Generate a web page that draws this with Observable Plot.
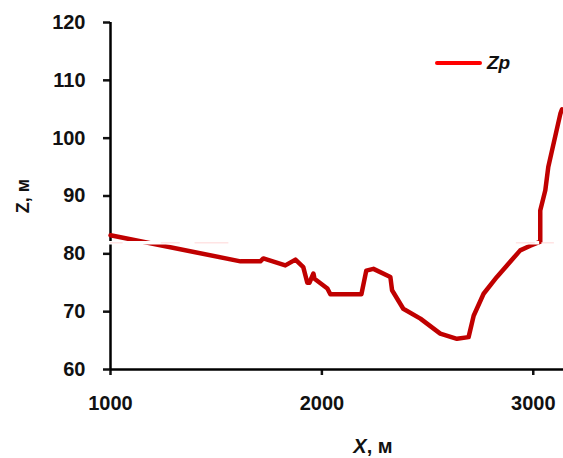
<!DOCTYPE html>
<html>
<head>
<meta charset="utf-8">
<script src="https://cdn.jsdelivr.net/npm/d3@7"></script>
<script src="https://cdn.jsdelivr.net/npm/@observablehq/plot@0.6"></script>
<style>
  body { margin: 0; background: #fff; }
  #wrap { position: relative; width: 563px; height: 458px; font-family: "Liberation Sans", Arial, sans-serif; font-weight: bold; color: #111; }
  .ttl { position: absolute; white-space: nowrap; line-height: 1; }
  #legend { position: absolute; left: 435px; top: 52px; display: flex; align-items: center; font-size: 19px; }
  #legend .sw { width: 47px; height: 4px; background: #ff0000; border-radius: 2px; margin-right: 5px; }
</style>
</head>
<body>
<div id="wrap">
  <div id="chart"></div>
  <div class="ttl" id="xt" style="left:373px; top:446px; font-size:20px; transform: translate(-50%,-50%);"><i>X</i>, м</div>
  <div class="ttl" id="yt" style="left:23px; top:196px; font-size:18px; transform: translate(-50%,-50%) rotate(-90deg);">Z, м</div>
  <div id="legend"><div class="sw"></div><i>Zp</i></div>
</div>
<script>
// Profile data: X (m) and Zp (m)
const xVals = [1000, 1165, 1615, 1709, 1723, 1827, 1875, 1912, 1931, 1941, 1960, 1965, 2026, 2040, 2187, 2210, 2244, 2324, 2332, 2385, 2466, 2560, 2639, 2694, 2718, 2765, 2828, 2938, 2986, 3033, 3033, 3057, 3071, 3128, 3136];
const zVals = [83.2, 82.0, 78.7, 78.7, 79.2, 78.0, 79.0, 77.7, 75.0, 75.0, 76.6, 75.7, 74.0, 73.0, 73.0, 77.1, 77.4, 76.0, 73.7, 70.5, 68.8, 66.2, 65.3, 65.6, 69.3, 73.1, 76.0, 80.6, 81.4, 82.1, 87.5, 91.0, 95.0, 104.2, 105.0];
const xTicks = [1000, 2000, 3000];
const yTicks = [60, 70, 80, 90, 100, 110, 120];
// scan artifact: faint horizontal band
const bandY = [81.9];
const pinkX1 = [1000, 1240, 1400, 2920, 3040];
const pinkX2 = [1060, 1330, 1560, 3010, 3100];

const data = xVals.map((x, i) => ({x, z: zVals[i]}));
const pink = pinkX1.map((a, i) => ({x1: a, x2: pinkX2[i], y: bandY[0]}));

const plot = Plot.plot({
  width: 563,
  height: 458,
  marginLeft: 110,
  marginRight: 0,
  marginTop: 22,
  marginBottom: 89,
  style: { fontFamily: "Liberation Sans, Arial, sans-serif", fontSize: "20px", fontWeight: "bold", color: "#111", background: "#fff" },
  x: { domain: [1000, 3143] },
  y: { domain: [60, 120] },
  marks: [
    Plot.axisX({ ticks: xTicks, tickSize: 6, tickPadding: 20, tickFormat: d => String(d), strokeWidth: 2.5, label: null }),
    Plot.axisY({ ticks: yTicks, tickSize: 7, tickPadding: 18, strokeWidth: 2.5, label: null }),
    Plot.ruleX([1000], { y1: 60, y2: 120, stroke: "#000", strokeWidth: 2.5 }),
    Plot.ruleY([60], { stroke: "#000", strokeWidth: 2.5 }),
    Plot.line(data, { x: "x", y: "z", stroke: "#c00000", strokeWidth: 4.5, strokeLinejoin: "round", strokeLinecap: "round" }),
    Plot.ruleY(bandY, { x1: 995, x2: 3030, stroke: "#fff", strokeWidth: 3.5 }),
    Plot.ruleY(pink, { x1: "x1", x2: "x2", y: "y", stroke: "#ffd6d6", strokeWidth: 1 })
  ]
});
document.getElementById("chart").appendChild(plot);
</script>
</body>
</html>
